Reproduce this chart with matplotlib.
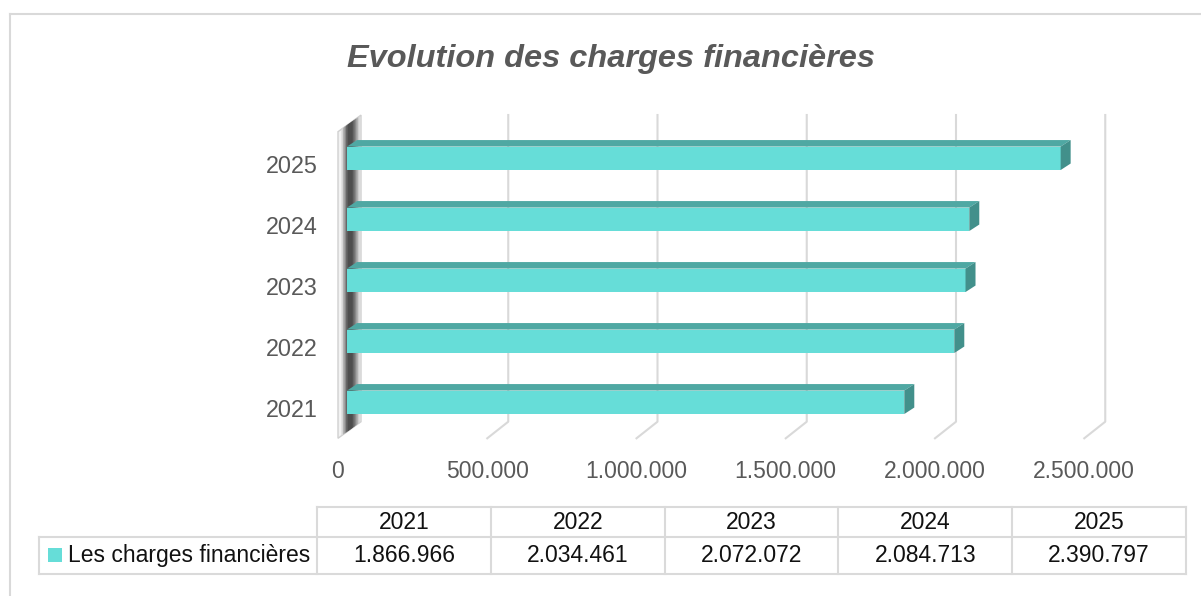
import matplotlib
matplotlib.use("Agg")
import matplotlib.pyplot as plt
from matplotlib.patches import Polygon, Rectangle
from matplotlib.lines import Line2D
from matplotlib.transforms import ScaledTranslation

years = ["2021", "2022", "2023", "2024", "2025"]
charges = [1866966, 2034461, 2072072, 2084713, 2390797]
series_name = "Les charges financières"
x_ticks = [0, 500000, 1000000, 1500000, 2000000, 2500000]
title = "Evolution des charges financières"

face_col = "#66DDD8"
top_col = "#4FA8A3"
side_col = "#42908B"
grid_col = "#d9d9d9"
text_gray = "#595959"


def fmt(v):
    return f"{v:,}".replace(",", ".")


W, H = 1201, 596
plt.rcParams['font.family'] = ['Liberation Sans', 'DejaVu Sans']

fig = plt.figure(figsize=(W / 100, H / 100), dpi=100)

# pixel scale of the bar plane
px_val = 298.5e-6
px_cat = 61.0
x0_px, y0_px = 347, 402.3
ax_l, ax_r, ax_t, ax_b = 347, 1140, 100, 445

ax = fig.add_axes([ax_l / W, 1 - ax_b / H, (ax_r - ax_l) / W, (ax_b - ax_t) / H])
ax.set_xlim(0, (ax_r - x0_px) / px_val)
ax.set_ylim((y0_px - ax_b) / px_cat, (y0_px - ax_t) / px_cat)
ax.patch.set_visible(False)
for s in ax.spines.values():
    s.set_visible(False)


def dx(p):
    return p / px_val


def dy(p):
    return p / px_cat


def to_data(xp, yp):
    return ((xp - x0_px) / px_val, (y0_px - yp) / px_cat)


# gridlines on back wall + floor
back_dx, front_dx = dx(12), dx(-9)
floor_back = (y0_px - 421.7) / px_cat
floor_front = (y0_px - 438.3) / px_cat
grid_top = (y0_px - 115) / px_cat
for v in x_ticks[1:]:
    ax.plot([v + back_dx, v + back_dx, v + front_dx],
            [grid_top, floor_back, floor_front],
            color=grid_col, lw=1.5, clip_on=False, zorder=1)


# left side wall
def wall_band(t1, t2, color, edge="none"):
    pts = []
    for t, which in ((t1, "b"), (t2, "b"), (t2, "t"), (t1, "t")):
        xp = 338 + 23 * t
        yp = (438.3 if which == "b" else 131.7) - 16.6 * t
        pts.append(to_data(xp, yp))
    ax.add_patch(Polygon(pts, closed=True, fc=color, ec=edge, lw=1,
                         clip_on=False, zorder=2))


wall_band(0, 1, "#f2f2f2", "#d0d0d0")
wall_band(0.15, 0.95, "#d6d6d6")
wall_band(0.22, 0.88, "#b0b0b0")
wall_band(0.29, 0.8, "#888888")
wall_band(0.35, 0.72, "#666666")
wall_band(0.42, 0.64, "#4e4e4e")

# bars
cats = list(range(len(years)))
bh = 0.385
ax.barh(cats, charges, height=bh, color=face_col, zorder=4, clip_on=False)
ddx, ddy = dx(10), dy(6.5)
for c, v in zip(cats, charges):
    top = c + bh / 2
    bot = c - bh / 2
    ax.add_patch(Polygon([(0, top), (v, top), (v + ddx, top + ddy), (ddx, top + ddy)],
                         closed=True, fc=top_col, ec="none", zorder=4, clip_on=False))
    ax.add_patch(Polygon([(v, bot), (v + ddx, bot + ddy), (v + ddx, top + ddy), (v, top)],
                         closed=True, fc=side_col, ec="none", zorder=4, clip_on=False))

# ticks
ax.set_yticks(cats, years)
ax.tick_params(axis="y", length=0, pad=29 * 0.72, labelsize=16.8, labelcolor=text_gray)
for lbl in ax.get_yticklabels():
    lbl.set_transform(lbl.get_transform() + ScaledTranslation(0, -6 / 100, fig.dpi_scale_trans))

ax.set_xticks(x_ticks, [fmt(v) for v in x_ticks])
ax.tick_params(axis="x", length=0, pad=10.5, labelsize=16.5, labelcolor=text_gray)
for lbl in ax.get_xticklabels():
    lbl.set_transform(lbl.get_transform() + ScaledTranslation(-9 / 100, 0, fig.dpi_scale_trans))

# title
fig.text(611 / W, 1 - 67 / H, title, ha="center", va="baseline", fontsize=23.4,
         fontweight="bold", style="italic", color=text_gray)

# chart area border
fig.add_artist(Line2D([10 / W, 10 / W], [0, 1 - 14 / H], transform=fig.transFigure,
                      color=grid_col, lw=1.5))
fig.add_artist(Line2D([10 / W, 1], [1 - 14 / H, 1 - 14 / H], transform=fig.transFigure,
                      color=grid_col, lw=1.5))

# data table
tax = fig.add_axes([0, 0, 1, 1])
tax.set_xlim(0, W)
tax.set_ylim(H, 0)
tax.axis("off")
tax.patch.set_visible(False)

col_edges = [317.3 + 173.7 * i for i in range(len(years) + 1)]
y_top, y_mid, y_bot = 507.3, 537.0, 574.3
x_lab = 39.3
tcol = "#dadada"
tax.plot([col_edges[0], col_edges[-1]], [y_top, y_top], color=tcol, lw=1.5)
tax.plot([x_lab, col_edges[-1]], [y_mid, y_mid], color=tcol, lw=1.5)
tax.plot([x_lab, col_edges[-1]], [y_bot, y_bot], color=tcol, lw=1.5)
for xe in col_edges:
    tax.plot([xe, xe], [y_top, y_bot], color=tcol, lw=1.5)
tax.plot([x_lab, x_lab], [y_mid, y_bot], color=tcol, lw=1.5)

for i, (yr, v) in enumerate(zip(years, charges)):
    xc = (col_edges[i] + col_edges[i + 1]) / 2
    tax.text(xc, 529.3, yr, ha="center", va="baseline", fontsize=16.5, color="#111111")
    tax.text(xc, 561.7, fmt(v), ha="center", va="baseline", fontsize=16.5, color="#111111")

tax.add_patch(Rectangle((48.3, 548), 13.4, 13.7, fc=face_col, ec="none"))
tax.text(67.7, 561.7, series_name, ha="left", va="baseline", fontsize=16.5, color="#111111")

fig.savefig("out.png", dpi=100)
